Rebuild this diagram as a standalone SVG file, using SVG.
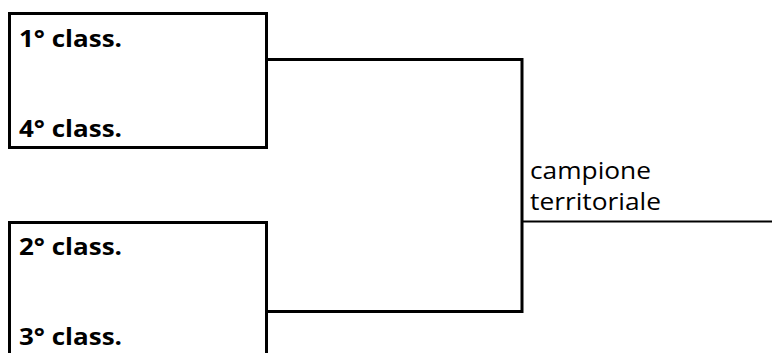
<svg xmlns="http://www.w3.org/2000/svg" width="772" height="353" viewBox="0 0 772 353">
<style>
.box{fill:#fff;stroke:#000;stroke-width:3}
.lbl{font-family:"Open Sans","Liberation Sans",sans-serif;font-weight:bold;font-size:23px;fill:#000}
.txt{font-family:"Open Sans","Liberation Sans",sans-serif;font-size:23px;fill:#000}
.con{fill:none;stroke:#000;stroke-width:3}
</style>
<rect width="772" height="353" fill="#fff"/>
<g id="node-top">
<rect class="box" x="9.5" y="13.5" width="257" height="134"/>
<text class="lbl" x="19" y="47" textLength="103" lengthAdjust="spacingAndGlyphs">1° class.</text>
<text class="lbl" x="19" y="137" textLength="103" lengthAdjust="spacingAndGlyphs">4° class.</text>
</g>
<g id="node-bottom">
<rect class="box" x="9.5" y="222.5" width="257" height="150"/>
<text class="lbl" x="19" y="255" textLength="103" lengthAdjust="spacingAndGlyphs">2° class.</text>
<text class="lbl" x="19" y="345" textLength="103" lengthAdjust="spacingAndGlyphs">3° class.</text>
</g>
<g id="connectors">
<path class="con" d="M268 59.5 H522 V311.5 H268"/>
<path class="con" style="stroke-width:2" d="M522 221.5 H772"/>
</g>
<g id="node-label">
<text class="txt" x="530" y="179" textLength="121" lengthAdjust="spacingAndGlyphs">campione</text>
<text class="txt" x="530" y="210" textLength="131" lengthAdjust="spacingAndGlyphs">territoriale</text>
</g>
</svg>
